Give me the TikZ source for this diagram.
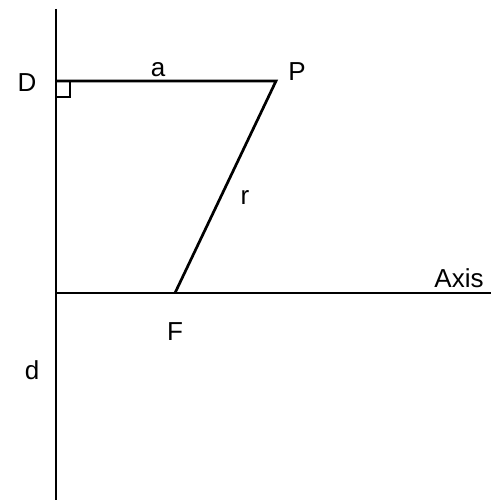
\documentclass[tikz,border=0pt]{standalone}
\usepackage{fontspec}
\setmainfont{Liberation Sans}
\usetikzlibrary{calc,positioning}

\begin{document}
\begin{tikzpicture}[x=1pt,y=-1pt,
    ln/.style={line width=2.7pt,black},
    lbl/.style={font=\fontsize{26}{30}\selectfont,inner sep=0pt}]
    \useasboundingbox (0,0) rectangle (491,500);
    % directrix and axis
    \coordinate (top) at (56,9);
    \coordinate (bot) at (56,500);
    \coordinate (D) at (56,81);
    \coordinate (P) at (276,81);
    \coordinate (F) at (175,293);
    \coordinate (ax0) at (56,293);
    \coordinate (ax1) at (491,293);
    \draw[ln] (top)--(bot);
    \draw[ln] (ax0)--(ax1);
    \draw[ln] (D)--(P)--(F);
    % right angle mark
    \draw[line width=2pt] ($(D)+(0,16)$) -| ($(D)+(14,0)$);
    % labels
    \node[lbl] (lD) at (27,83) {D};
    \node[lbl] (la) at (158,70) {a};
    \node[lbl] (lP) at (297,72) {P};
    \node[lbl] (lr) at (245,198) {r};
    \node[lbl] (lAxis) at (459,278) {Axis};
    \node[lbl] (lF) at (175,332) {F};
    \node[lbl] (ld) at (32,370) {d};
\end{tikzpicture}
\end{document}
